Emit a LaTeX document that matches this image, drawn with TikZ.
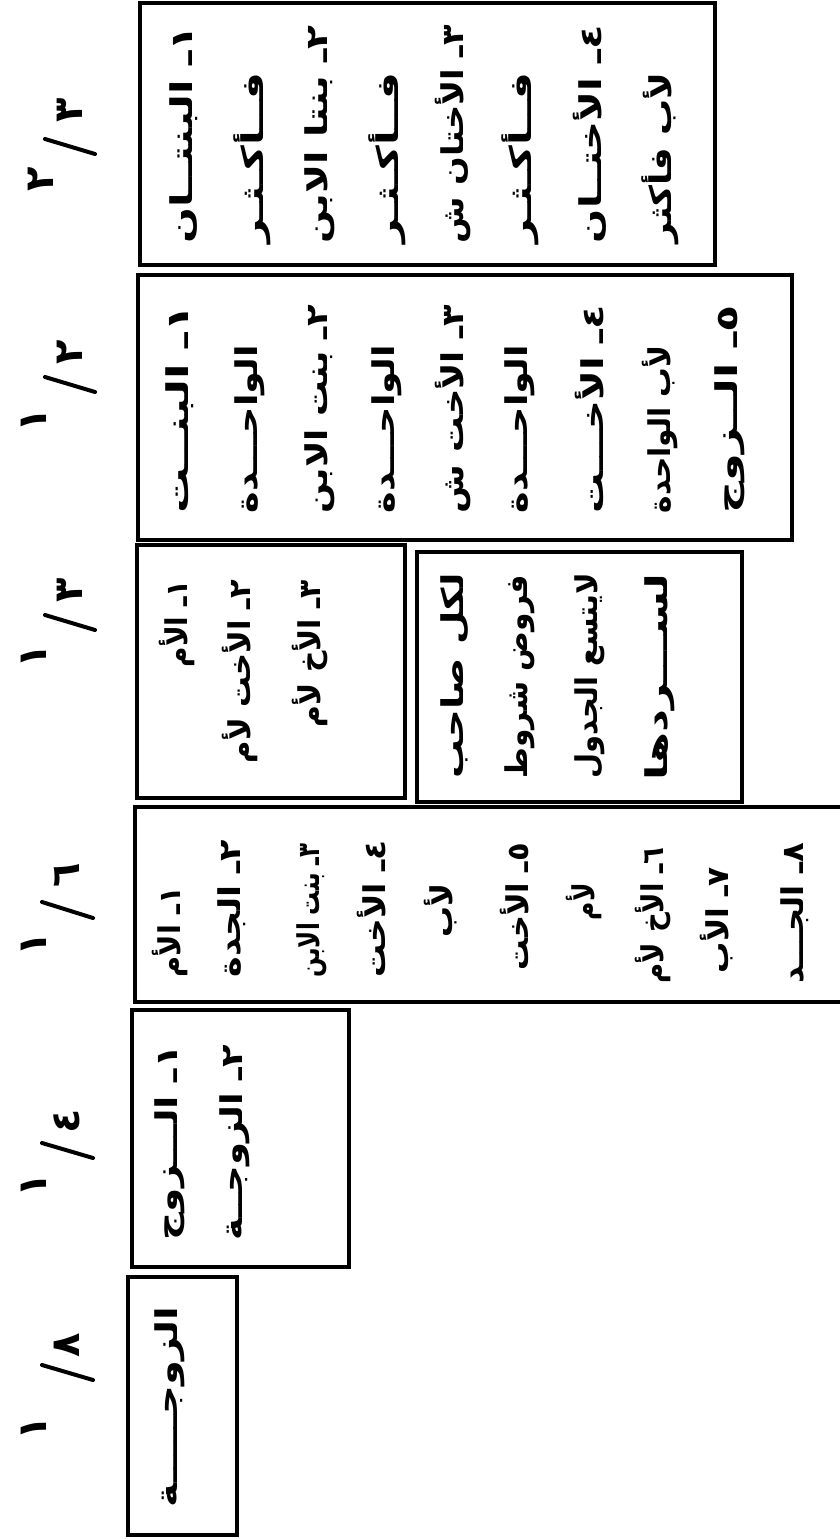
\documentclass[tikz,border=0pt]{standalone}
\usepackage{fontspec}
\newfontfamily\arabicfont[Script=Arabic]{DejaVu Sans}
\TeXXeTstate=1
\newcommand{\arline}[2]{\resizebox{#1pt}{\height}{#2}}
\tikzset{
  box/.style={draw=black, line width=3.5pt},
  ln/.style={rotate=90, anchor=east, inner sep=0pt, font=\arabicfont\bfseries\fontsize{30}{32}\selectfont},
  fr/.style={rotate=90, anchor=center, inner sep=0pt, font=\arabicfont\bfseries\fontsize{40}{40}\selectfont},
  sl/.style={line width=4pt, line cap=round},
}
\begin{document}
\begin{tikzpicture}[x=1pt,y=-1pt]
\useasboundingbox (0,0) rectangle (840,1539);
\clip (0,0) rectangle (840,1539);
\fill[white] (0,0) rectangle (840,1539);
% fractions
\node[fr] (n1) at (41,179) {٢}; \node[fr] (d1) at (70,110) {٣}; \draw[sl] (45,139) -- (95,154);
\node[fr] (n2) at (34,420) {١}; \node[fr] (d2) at (70,352) {٢}; \draw[sl] (45,377) -- (95,392);
\node[fr] (n3) at (34,656) {١}; \node[fr] (d3) at (70,590) {٣}; \draw[sl] (45,615) -- (95,630);
\node[fr] (n4) at (34,944) {١}; \node[fr] (d4) at (67,875) {٦}; \draw[sl] (42,902) -- (93,918);
\node[fr] (n5) at (34,1185) {١}; \node[fr] (d5) at (67,1121) {٤}; \draw[sl] (42,1143) -- (93,1158);
\node[fr] (n6) at (34,1428) {١}; \node[fr] (d6) at (67,1345) {٨}; \draw[sl] (42,1365) -- (93,1380);
% boxes
\draw[box] (140,3) rectangle (715,265);
\draw[box] (138,275) rectangle (792,540);
\draw[box] (137,545) rectangle (405,798);
\draw[box] (417,552) rectangle (742,802);
\draw[box] (860,807) -- (135,807) -- (135,1002) -- (860,1002);
\draw[box] (132,1010) rectangle (349,1267);
\draw[box] (128,1277) rectangle (237,1535);
% box A
\node[ln] (a1) at (184,25) {\arline{218}{\beginR ١ـ البنتــان\endR}};
\node[ln] (a2) at (252,72) {\arline{171}{\beginR فــأكـثـر\endR}};
\node[ln] (a3) at (320,25) {\arline{218}{\beginR ٢ـ بنتا الابن\endR}};
\node[ln] (a4) at (387,72) {\arline{171}{\beginR فــأكـثـر\endR}};
\node[ln] (a5) at (453,25) {\arline{218}{\beginR ٣ـ الأختان ش\endR}};
\node[ln] (a6) at (520,72) {\arline{171}{\beginR فــأكـثـر\endR}};
\node[ln] (a7) at (590,25) {\arline{218}{\beginR ٤ـ الأختــان\endR}};
\node[ln] (a8) at (660,72) {\arline{171}{\beginR لأب فأكثر\endR}};
% box B
\node[ln] (b1) at (180,305) {\arline{208}{\beginR ١ـ البنــت\endR}};
\node[ln] (b2) at (250,345) {\arline{168}{\beginR الواحـــدة\endR}};
\node[ln] (b3) at (320,305) {\arline{208}{\beginR ٢ـ بنت الابن\endR}};
\node[ln] (b4) at (387,345) {\arline{168}{\beginR الواحـــدة\endR}};
\node[ln] (b5) at (453,305) {\arline{208}{\beginR ٣ـ الأخت ش\endR}};
\node[ln] (b6) at (520,345) {\arline{168}{\beginR الواحـــدة\endR}};
\node[ln] (b7) at (590,305) {\arline{208}{\beginR ٤ـ الأخـــت\endR}};
\node[ln] (b8) at (660,345) {\arline{168}{\beginR لأب الواحدة\endR}};
\node[ln] (b9) at (730,305) {\arline{208}{\beginR ٥ـ الــزوج\endR}};
% box C1
\node[ln] (c1) at (177,580) {\arline{87}{\beginR ١ـ الأم\endR}};
\node[ln] (c2) at (240,580) {\arline{183}{\beginR ٢ـ الأخت لأم\endR}};
\node[ln] (c3) at (310,580) {\arline{147}{\beginR ٣ـ الأخ لأم\endR}};
% box C2
\node[ln] (g1) at (455,573) {\arline{205}{\beginR لكل صاحب\endR}};
\node[ln] (g2) at (520,575) {\arline{203}{\beginR فروض شروط\endR}};
\node[ln] (g3) at (590,573) {\arline{205}{\beginR لايتسع الجدول\endR}};
\node[ln] (g4) at (660,573) {\arline{207}{\beginR لســـردها\endR}};
% box D
\node[ln] (h1) at (170,887) {\arline{90}{\beginR ١ـ الأم\endR}};
\node[ln] (h2) at (232,840) {\arline{137}{\beginR ٢ـ الجدة\endR}};
\node[ln] (h3) at (312,843) {\arline{134}{\beginR ٣ـ بنت الابن\endR}};
\node[ln] (h4) at (372,840) {\arline{137}{\beginR ٤ـ الأخت\endR}};
\node[ln] (h5) at (441,883) {\arline{54}{\beginR لأب\endR}};
\node[ln] (h6) at (515,843) {\arline{127}{\beginR ٥ـ الأخت\endR}};
\node[ln] (h7) at (584,883) {\arline{37}{\beginR لأم\endR}};
\node[ln] (h8) at (653,847) {\arline{136}{\beginR ٦ـ الأخ لأم\endR}};
\node[ln] (h9) at (717,867) {\arline{106}{\beginR ٧ـ الأب\endR}};
\node[ln] (h10) at (795,843) {\arline{140}{\beginR ٨ـ الجـــد\endR}};
% box E
\node[ln] (e1) at (170,1045) {\arline{195}{\beginR ١ـ الـــزوج\endR}};
\node[ln] (e2) at (235,1045) {\arline{195}{\beginR ٢ـ الزوجــة\endR}};
% box F
\node[ln] (f1) at (170,1307) {\arline{200}{\beginR الزوجـــــة\endR}};
\end{tikzpicture}
\end{document}
